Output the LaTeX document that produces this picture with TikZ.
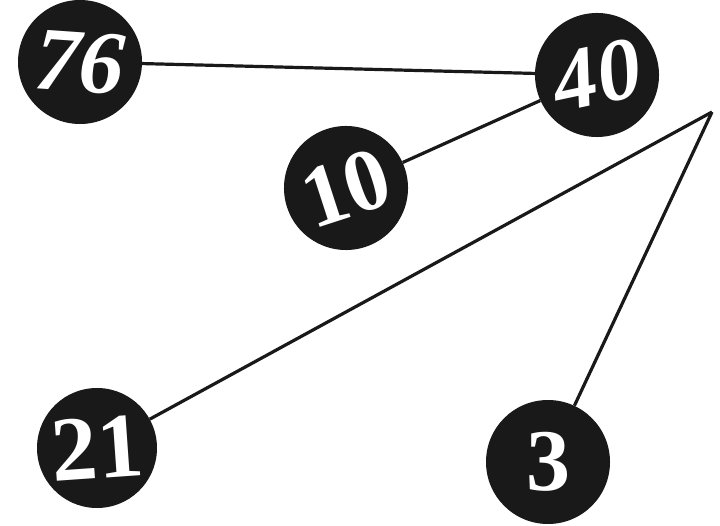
\documentclass[tikz,border=0pt]{standalone}
\usepackage{fontspec}
\setmainfont{Liberation Serif}
\begin{document}
\begin{tikzpicture}[x=1pt,y=-1pt,
  ball/.style={circle,fill=black!90,minimum size=124pt,inner sep=0pt,text=white,
    font=\fontsize{88}{88}\selectfont\bfseries},
  link/.style={line width=3.2pt,black!90}]
\useasboundingbox (0,0) rectangle (720,526);
\fill[white] (0,0) rectangle (720,526);
\node[ball,rotate=-4,font=\fontsize{90}{90}\selectfont\bfseries\itshape] (n76) at (80,62) {76};
\node[ball,rotate=12,font=\fontsize{88}{88}\selectfont\bfseries\itshape] (n40) at (597,75) {40};
\node[ball,rotate=18] (n10) at (346,188) {10};
\node[ball,minimum size=120pt,rotate=4,font=\fontsize{92}{92}\selectfont\bfseries] (n21) at (97,448) {21};
\node[ball] (n3) at (548,462) {3};
\coordinate (apex) at (712,112);
\draw[link] (n76) -- (n40);
\draw[link] (n40) -- (n10);
\draw[link] (apex) -- (n21);
\draw[link] (apex) -- (n3);
\end{tikzpicture}
\end{document}
